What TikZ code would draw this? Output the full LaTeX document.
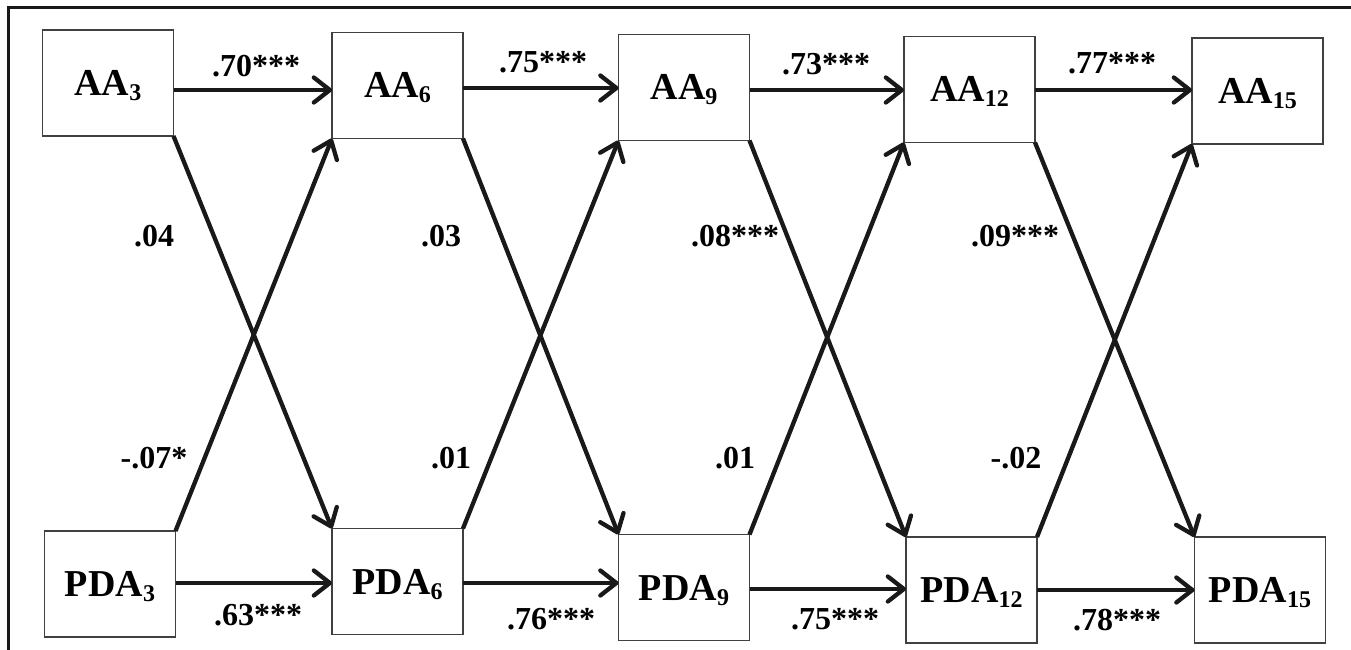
\documentclass[tikz,border=0pt]{standalone}
\usepackage{fontspec}
\setmainfont{Liberation Serif}
\usetikzlibrary{arrows.meta}
\newcommand\lowidx[1]{\raisebox{-5pt}{\fontsize{24}{24}\selectfont #1}}
\begin{document}
\begin{tikzpicture}[x=1pt,y=-1pt,
  varbox/.style={draw=black!75, line width=1.4pt, minimum width=131pt, minimum height=106pt,
    inner sep=0pt, outer sep=0pt, text height=25pt, text depth=0pt,
    font=\fontsize{38}{40}\selectfont\bfseries},
  coef/.style={inner sep=0pt, font=\fontsize{32}{34}\selectfont\bfseries},
  path/.style={line width=4.3pt, draw=black!90,
    -{Straight Barb[length=16pt,width=25pt,round]}}]
\useasboundingbox (0,0) rectangle (1351,650);
% frame
\draw[line width=3pt, black!90] (8,650) -- (8,8) -- (1351,8);

% AA row
\node[varbox] (aa3)  at (108,83)    {AA\lowidx{3}};
\node[varbox] (aa6)  at (397.5,85.5){AA\lowidx{6}};
\node[varbox] (aa9)  at (684,87.5)  {AA\lowidx{9}};
\node[varbox] (aa12) at (969.5,89.5){AA\lowidx{12}};
\node[varbox] (aa15) at (1257.5,91) {AA\lowidx{15}};
% PDA row
\node[varbox] (pda3)  at (110,584)   {PDA\lowidx{3}};
\node[varbox] (pda6)  at (397.5,581.5){PDA\lowidx{6}};
\node[varbox] (pda9)  at (684,587.5) {PDA\lowidx{9}};
\node[varbox] (pda12) at (971.5,590) {PDA\lowidx{12}};
\node[varbox] (pda15) at (1260,590)  {PDA\lowidx{15}};

% stability paths
\coordinate (s1) at ([yshift=-7pt]aa3.east);
\coordinate (s2) at ([yshift=-2.5pt]aa6.east);
\coordinate (s3) at ([yshift=-2.5pt]aa9.east);
\coordinate (s4) at ([yshift=-0.5pt]aa12.east);
\coordinate (t1) at ([yshift=1pt]pda3.east);
\coordinate (t2) at ([yshift=-1.5pt]pda6.east);
\coordinate (t3) at ([yshift=-1.5pt]pda9.east);
\coordinate (t4) at (pda12.east);
\draw[path] (s1) -- (s1 -| aa6.west);
\draw[path] (s2) -- (s2 -| aa9.west);
\draw[path] (s3) -- (s3 -| aa12.west);
\draw[path] (s4) -- (s4 -| aa15.west);
\draw[path] (t1) -- (t1 -| pda6.west);
\draw[path] (t2) -- (t2 -| pda9.west);
\draw[path] (t3) -- (t3 -| pda12.west);
\draw[path] (t4) -- (t4 -| pda15.west);

% cross-lagged paths
\draw[path] (aa3.south east)  -- (pda6.north west);
\draw[path] (aa6.south east)  -- (pda9.north west);
\draw[path] (aa9.south east)  -- (pda12.north west);
\draw[path] (aa12.south east) -- (pda15.north west);
\draw[path] (pda3.north east)  -- (aa6.south west);
\draw[path] (pda6.north east)  -- (aa9.south west);
\draw[path] (pda9.north east)  -- (aa12.south west);
\draw[path] (pda12.north east) -- (aa15.south west);

% coefficients
\node[coef] (c1)  at (256,66)   {.70***};
\node[coef] (c2)  at (543,62)   {.75***};
\node[coef] (c3)  at (826,64)   {.73***};
\node[coef] (c4)  at (1112,63)  {.77***};
\node[coef] (c5)  at (258,615)  {.63***};
\node[coef] (c6)  at (551,619)  {.76***};
\node[coef] (c7)  at (835,619)  {.75***};
\node[coef] (c8)  at (1117,620) {.78***};
\node[coef] (c9)  at (154,236)  {.04};
\node[coef] (c10) at (441,236)  {.03};
\node[coef] (c11) at (735,236)  {.08***};
\node[coef] (c12) at (1015,236) {.09***};
\node[coef] (c13) at (154,458)  {-.07*};
\node[coef] (c14) at (451,458)  {.01};
\node[coef] (c15) at (735,458)  {.01};
\node[coef] (c16) at (1016,458) {-.02};
\end{tikzpicture}
\end{document}
